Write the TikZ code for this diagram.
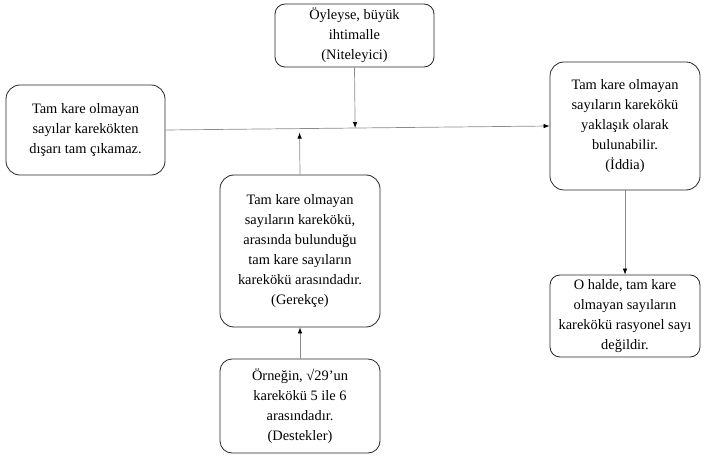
\documentclass[tikz,border=0pt]{standalone}
\usepackage{fontspec}
\setmainfont{Liberation Serif}
\usetikzlibrary{arrows.meta,calc}
\tikzset{>={Latex[length=6pt,width=4.5pt,black]}}
\tikzset{argbox/.style={draw=black!85, line width=0.8pt, rounded corners=14pt, align=center, inner sep=0pt,
    font=\fontsize{14.4}{20}\selectfont}}
\tikzset{link/.style={->, draw=black!45, line width=0.7pt}}

\begin{document}
\begin{tikzpicture}[x=1pt, y=-1pt]

\useasboundingbox (0,0) rectangle (704,457);

% veri ve niteleyici
\node[argbox, minimum width=159pt, minimum height=90pt] (veri) at (85.5,130)
  {Tam kare olmayan\\sayılar karekökten\\dışarı tam çıkamaz.};
\node[argbox, rounded corners=10pt, minimum width=159pt, minimum height=63pt] (nitel) at (354.5,35.5)
  {Öyleyse, büyük\\ihtimalle\\(Niteleyici)};

% iddia ve çürütme
\node[argbox, minimum width=150pt, minimum height=128pt] (iddia) at (625,126)
  {Tam kare olmayan\\sayıların karekökü\\yaklaşık olarak\\bulunabilir.\\(İddia)};
\node[argbox, rounded corners=10pt, minimum width=150pt, minimum height=82pt] (curut) at (625,316)
  {O halde, tam kare\\olmayan sayıların\\karekökü rasyonel sayı\\değildir.};

% gerekçe ve destekler
\node[argbox, minimum width=160pt, minimum height=152pt] (gerek) at (300,251)
  {Tam kare olmayan\\sayıların karekökü,\\arasında bulunduğu\\tam kare sayıların\\karekökü arasındadır.\\(Gerekçe)};
\node[argbox, rounded corners=12pt, minimum width=160pt, minimum height=94pt] (destek) at (300,406)
  {Örneğin, √29’un\\karekökü 5 ile 6\\arasındadır.\\(Destekler)};

\coordinate (nl) at ($(veri.east)!(nitel.south)!(iddia.west)$);
\coordinate (gl) at ($(veri.east)!(gerek.north)!(iddia.west)$);

\draw[link] (veri.east) -- (iddia.west);
\draw[link] (nitel.south) -- (nl);
\draw[link, shorten >=4pt] (gerek.north) -- (gl);
\draw[link] (destek.north) -- (gerek.south);
\draw[link] (iddia.south) -- (curut.north);

\end{tikzpicture}
\end{document}
